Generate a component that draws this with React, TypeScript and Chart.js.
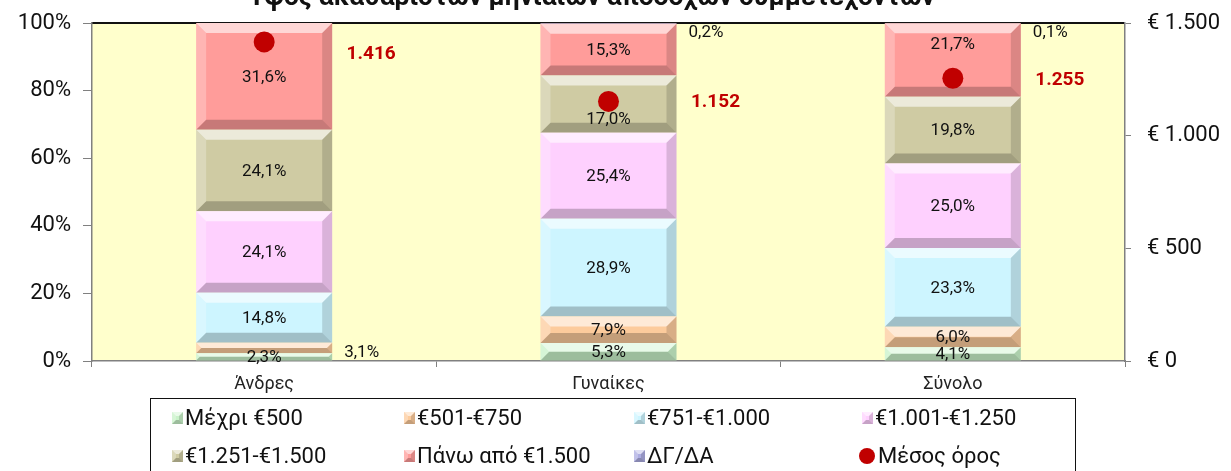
import React, { useEffect, useRef } from 'react';
import { Chart, registerables } from 'chart.js';

Chart.register(...registerables);

const chartTitle = 'Ύψος ακαθάριστων μηνιαίων αποδοχών συμμετεχόντων';
const categories = ['Άνδρες', 'Γυναίκες', 'Σύνολο'];
const seriesLabels = ['Μέχρι €500', '€501-€750', '€751-€1.000', '€1.001-€1.250', '€1.251-€1.500', 'Πάνω από €1.500', 'ΔΓ/ΔΑ'];
const upTo500 = [2.3, 5.3, 4.1];
const from501to750 = [3.1, 7.9, 6.0];
const from751to1000 = [14.8, 28.9, 23.3];
const from1001to1250 = [24.1, 25.4, 25.0];
const from1251to1500 = [24.1, 17.0, 19.8];
const over1500 = [31.6, 15.3, 21.7];
const noAnswer = [0, 0.2, 0.1];
const meanLabel = 'Μέσος όρος';
const meanValues = [1416, 1152, 1255];
const percentTickStep = 20;
const euroTickStep = 500;
const euroMax = 1500;

const seriesData = [upTo500, from501to750, from751to1000, from1001to1250, from1251to1500, over1500, noAnswer];
const seriesColors = ['#C9F2C9', '#FCCB9C', '#CDF5FF', '#FED0FE', '#CFCBA3', '#FF9C9A', '#ADADE2'];
const meanColor = '#C00000';
const meanLabelNudgeY = [12, 1, 2];
const POINT_R = 10.5;

const FONT = 'Roboto, "Open Sans", sans-serif';

function fmtThousands(v: number): string {
  const n = Math.round(v);
  if (n >= 1000) return `${Math.floor(n / 1000)}.${String(n % 1000).padStart(3, '0')}`;
  return String(n);
}
function fmtPct(v: number): string {
  return v.toFixed(1).replace('.', ',') + '%';
}

function drawBevel(ctx: CanvasRenderingContext2D, l: number, t: number, r: number, b: number, maxS: number) {
  const h = b - t;
  const w = r - l;
  if (h <= 0.5 || w <= 0) return;
  const s = Math.min(maxS, h / 2, w / 2);
  const poly = (pts: number[][], fill: string) => {
    ctx.beginPath();
    ctx.moveTo(pts[0][0], pts[0][1]);
    for (let i = 1; i < pts.length; i++) ctx.lineTo(pts[i][0], pts[i][1]);
    ctx.closePath();
    ctx.fillStyle = fill;
    ctx.fill();
  };
  poly([[l, t], [r, t], [r - s, t + s], [l + s, t + s]], 'rgba(255,255,255,0.6)');
  poly([[l, t], [l + s, t + s], [l + s, b - s], [l, b]], 'rgba(255,255,255,0.25)');
  poly([[r, t], [r, b], [r - s, b - s], [r - s, t + s]], 'rgba(0,0,0,0.14)');
  poly([[l, b], [r, b], [r - s, b - s], [l + s, b - s]], 'rgba(0,0,0,0.22)');
}

const plotBackground = {
  id: 'plotBackground',
  beforeDraw(chart: any) {
    const { ctx, chartArea: a } = chart;
    ctx.save();
    ctx.fillStyle = '#FFFFCC';
    ctx.fillRect(a.left, a.top, a.right - a.left, a.bottom - a.top);
    ctx.strokeStyle = '#111';
    ctx.lineWidth = 2;
    ctx.beginPath();
    ctx.moveTo(a.left, a.top);
    ctx.lineTo(a.right, a.top);
    ctx.stroke();
    ctx.restore();
  },
};

const bevelPlugin = {
  id: 'bevelPlugin',
  afterDatasetDraw(chart: any, args: any) {
    const meta = args.meta;
    if (meta.type !== 'bar') return;
    const ctx = chart.ctx;
    ctx.save();
    meta.data.forEach((el: any) => {
      const p = el.getProps(['x', 'y', 'base', 'width'], true);
      const l = p.x - p.width / 2;
      const r = p.x + p.width / 2;
      const t = Math.min(p.y, p.base);
      const b = Math.max(p.y, p.base);
      drawBevel(ctx, l, t, r, b, 10);
    });
    ctx.restore();
  },
};

const valueLabels = {
  id: 'valueLabels',
  afterDatasetsDraw(chart: any) {
    const ctx = chart.ctx;
    const y1 = chart.scales.y1;
    ctx.save();
    ctx.font = `17px ${FONT}`;
    ctx.fillStyle = '#111';
    ctx.textBaseline = 'middle';
    chart.data.datasets.forEach((ds: any, di: number) => {
      const meta = chart.getDatasetMeta(di);
      if (meta.type === 'bar') {
        meta.data.forEach((el: any, i: number) => {
          const v = ds.data[i];
          if (!v) return;
          const p = el.getProps(['x', 'y', 'base', 'width'], true);
          const t = Math.min(p.y, p.base);
          const b = Math.max(p.y, p.base);
          let cy = (t + b) / 2;
          if (v < 3.5 && di !== 0) {
            ctx.textAlign = 'left';
            ctx.fillText(fmtPct(v), p.x + p.width / 2 + 12, Math.max(cy - 4, t + 10));
          } else {
            const py = y1.getPixelForValue(meanValues[i]);
            if (py > t && py < b && Math.abs(py - cy) < 30) {
              const aboveH = py - POINT_R - t;
              const belowH = b - (py + POINT_R);
              if (belowH >= aboveH) cy = (py + POINT_R + b) / 2 - 4;
              else cy = (t + py - POINT_R) / 2 - 2;
            }
            ctx.textAlign = 'center';
            ctx.fillText(fmtPct(v), p.x, cy + 1);
          }
        });
      } else {
        ctx.save();
        ctx.font = `bold 19px ${FONT}`;
        ctx.fillStyle = meanColor;
        ctx.textAlign = 'center';
        meta.data.forEach((el: any, i: number) => {
          ctx.fillText(fmtThousands(ds.data[i]), el.x + 107, el.y + meanLabelNudgeY[i]);
        });
        ctx.restore();
      }
    });
    ctx.restore();
  },
};

const titleAndLegend = {
  id: 'titleAndLegend',
  afterDraw(chart: any) {
    const ctx = chart.ctx;
    ctx.save();
    let size = 28;
    ctx.font = `bold ${size}px ${FONT}`;
    const w = ctx.measureText(chartTitle).width;
    size = size * 688 / w;
    ctx.font = `bold ${size}px ${FONT}`;
    ctx.fillStyle = '#111';
    ctx.textAlign = 'center';
    ctx.textBaseline = 'alphabetic';
    ctx.fillText(chartTitle, 591, 5);

    ctx.strokeStyle = '#111';
    ctx.lineWidth = 1;
    ctx.strokeRect(150.5, 398.5, 925, 100);
    const colX = [172, 404, 634, 862];
    const rowY = [418, 456];
    ctx.font = `22px ${FONT}`;
    ctx.textAlign = 'left';
    ctx.textBaseline = 'middle';
    chart.data.datasets.forEach((ds: any, i: number) => {
      const x = colX[i % 4];
      const y = rowY[Math.floor(i / 4)];
      if (ds.type === 'line') {
        ctx.beginPath();
        ctx.arc(x + 5, y, 8, 0, Math.PI * 2);
        ctx.fillStyle = meanColor;
        ctx.fill();
        ctx.fillStyle = '#111';
        ctx.fillText(ds.label, x + 16, y + 1);
      } else {
        ctx.fillStyle = ds.backgroundColor;
        ctx.fillRect(x, y - 6, 11, 12);
        drawBevel(ctx, x, y - 6, x + 11, y + 6, 4);
        ctx.fillStyle = '#111';
        ctx.fillText(ds.label, x + 13, y + 1);
      }
    });
    ctx.restore();
  },
};

export default function App() {
  const ref = useRef<HTMLCanvasElement | null>(null);

  useEffect(() => {
    if (!ref.current) return;
    const barSets = seriesLabels.map((label, i) => ({
      type: 'bar' as const,
      label,
      data: seriesData[i],
      backgroundColor: seriesColors[i],
      borderWidth: 0,
      yAxisID: 'y',
      stack: 'pct',
      order: 1,
      barPercentage: 0.395,
      categoryPercentage: 1,
    }));
    const chart = new Chart(ref.current, {
      type: 'bar',
      data: {
        labels: categories,
        datasets: [
          ...barSets,
          {
            type: 'line' as const,
            label: meanLabel,
            data: meanValues,
            yAxisID: 'y1',
            showLine: false,
            pointRadius: POINT_R,
            pointBackgroundColor: meanColor,
            pointBorderWidth: 0,
            borderColor: meanColor,
            order: 0,
          } as any,
        ],
      },
      options: {
        animation: false,
        responsive: false,
        layout: { padding: { top: 23, left: 0, right: 0, bottom: 0 } },
        plugins: {
          legend: { display: false },
          title: { display: false },
          tooltip: { enabled: false },
        },
        scales: {
          x: {
            stacked: true,
            grid: { display: true, drawOnChartArea: false, color: '#808080', tickLength: 6, offset: true },
            border: { color: '#808080', width: 1.5 },
            ticks: { color: '#222', font: { family: FONT, size: 18 }, padding: 7 },
            afterFit: (s: any) => { s.height = 110; s.paddingLeft = 0; s.paddingRight = 0; },
          },
          y: {
            stacked: true,
            min: 0,
            max: 100,
            position: 'left',
            ticks: { stepSize: percentTickStep, color: '#111', font: { family: FONT, size: 22 }, padding: 12, callback: (v: any) => `${v}%` },
            grid: { drawOnChartArea: false, color: '#808080', tickLength: 9 },
            border: { color: '#808080', width: 1.5 },
            afterFit: (s: any) => { s.width = 92; s.paddingTop = 0; s.paddingBottom = 0; },
          },
          y1: {
            min: 0,
            max: euroMax,
            position: 'right',
            ticks: { stepSize: euroTickStep, color: '#111', font: { family: FONT, size: 22 }, padding: 16, callback: (v: any) => `€ ${fmtThousands(Number(v))}` },
            grid: { drawOnChartArea: false, color: '#808080', tickLength: 6 },
            border: { color: '#808080', width: 1.5 },
            afterFit: (s: any) => { s.width = 106; s.paddingTop = 0; s.paddingBottom = 0; },
          },
        },
      } as any,
      plugins: [plotBackground, bevelPlugin, valueLabels, titleAndLegend],
    });
    return () => chart.destroy();
  }, []);

  return (
    <div style={{ position: 'fixed', left: 0, top: 0, width: 1231, height: 471, background: '#fff' }}>
      <canvas ref={ref} width={1231} height={471} />
    </div>
  );
}
